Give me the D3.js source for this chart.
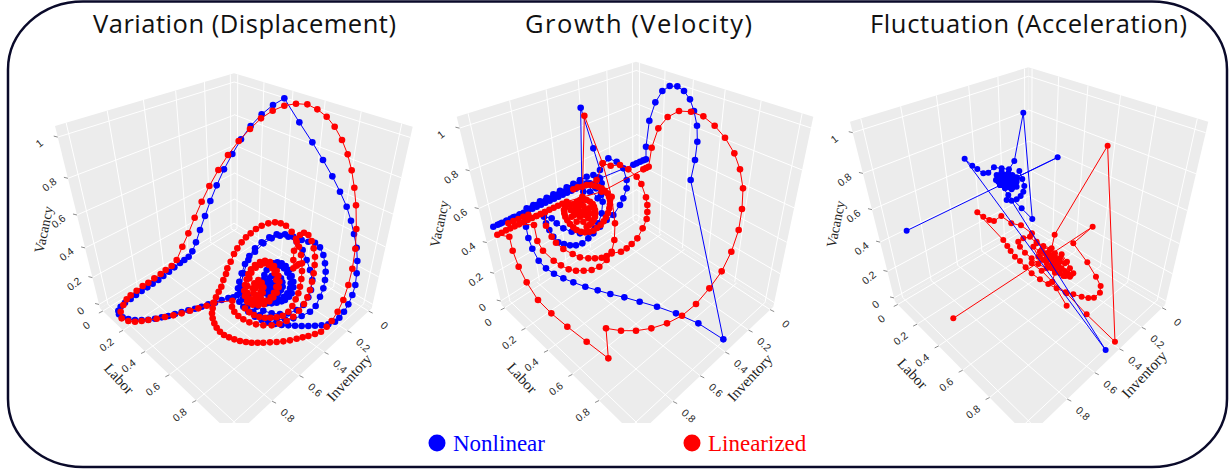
<!DOCTYPE html>
<html>
<head>
<meta charset="utf-8">
<script src="https://cdn.jsdelivr.net/npm/d3@7"></script>
<style>
  html, body { margin: 0; padding: 0; background: #fff; overflow: hidden; }
</style>
</head>
<body>
<svg id="chart" width="1229" height="472"></svg>
<script>
const titles = ["Variation (Displacement)", "Growth (Velocity)", "Fluctuation (Acceleration)"];
const seriesNames = ["Nonlinear", "Linearized"];
const axisNames = ["Inventory", "Labor", "Vacancy"];
const vacancyTicks = [0, 0.2, 0.4, 0.6, 0.8, 1];
const floorTicks = [0, 0.2, 0.4, 0.6, 0.8];
const gridTicks = [0, 0.2, 0.4, 0.6, 0.8, 1];

// the pictures are 3D trajectories seen from one camera, so each point is kept
// as it reads off the view plane: [across, up] in thousandths of the view
const displacementNonlinear = [[-2,418],[-17,416],[-37,410],[-57,402],[-77,397],[-97,390],[-117,384],[-137,379],[-157,374],[-177,368],[-197,362],[-217,358],[-237,354],[-257,351],[-277,350],[-297,350],[-317,353],[-334,358],[-345,367],[-347,378],[-340,390],[-327,402],[-310,413],[-294,425],[-277,437],[-260,448],[-244,459],[-227,470],[-212,482],[-195,495],[-179,508],[-162,521],[-149,530],[-136,540],[-125,556],[-114,583],[-102,620],[-87,662],[-71,707],[-52,754],[-30,802],[-5,848],[21,892],[50,932],[83,967],[117,995],[151,1015],[196,943],[235,883],[267,830],[295,781],[318,735],[338,690],[351,648],[360,608],[368,567],[370,527],[368,490],[364,455],[355,425],[343,397],[330,375],[316,357],[303,345],[283,337],[263,334],[243,333],[223,332],[203,332],[183,333],[163,334],[143,335],[123,338],[103,343],[83,350],[63,360],[43,375],[28,390],[16,405],[10,425],[12,445],[16,465],[23,490],[33,518],[46,542],[63,565],[83,583],[106,598],[128,607],[153,607],[178,600],[203,590],[223,585],[243,582],[258,568],[268,545],[273,520],[275,495],[273,470],[268,445],[258,420],[245,392],[228,375],[203,362],[178,355],[153,352],[128,352],[103,357],[78,365],[58,375],[40,392],[26,412],[20,430],[20,450],[28,490],[43,530],[63,555],[88,580],[113,595],[138,603],[163,600],[188,585],[206,560],[218,530],[228,500],[235,470],[231,440],[223,418],[208,395],[188,380],[163,370],[138,368],[113,370],[88,378],[68,390],[53,405],[43,420],[68,405],[83,402],[98,400],[113,400],[128,402],[143,406],[153,410],[165,420],[173,430],[178,448],[178,465],[173,482],[166,500],[155,512],[143,520],[130,523],[118,520],[106,512],[98,500],[91,485],[88,470],[89,455],[93,440],[103,430],[113,425],[125,426],[133,430],[141,440],[146,450],[145,463],[141,475],[133,482],[123,485],[113,482],[106,475],[101,465],[101,455],[106,447],[113,442],[123,444],[128,452],[123,462],[113,460],[135,512],[150,505],[160,492],[168,478],[170,460],[168,445],[160,430],[150,420],[135,412],[120,412],[105,418],[95,430]];
const displacementLinearized = [[72,420],[66,425],[64,445],[70,458],[78,452],[80,435],[73,408],[63,415],[58,430],[56,445],[61,460],[73,470],[83,462],[88,448],[86,432],[80,418],[68,405],[53,402],[40,408],[33,422],[31,438],[33,455],[38,472],[43,488],[51,502],[63,515],[78,524],[93,528],[108,524],[120,512],[128,498],[133,482],[136,465],[134,448],[128,432],[118,418],[106,406],[90,397],[73,394],[56,396],[40,404],[45,415],[40,432],[40,452],[46,475],[52,492],[65,507],[80,515],[93,520],[105,515],[115,505],[122,490],[127,470],[127,450],[120,432],[110,418],[95,408],[78,404],[60,405],[33,385],[46,373],[60,365],[76,359],[93,357],[110,357],[128,358],[146,363],[163,375],[175,392],[185,412],[193,430],[198,450],[202,473],[204,497],[204,520],[201,545],[195,570],[186,593],[173,615],[156,633],[140,640],[123,643],[103,640],[83,633],[66,623],[50,610],[36,598],[23,583],[10,565],[0,548],[-10,525],[-20,505],[-24,488],[-32,470],[-38,450],[-46,435],[-54,418],[-60,402],[-64,385],[-66,370],[-64,355],[-59,340],[-52,327],[-42,315],[-30,305],[-15,298],[1,292],[18,287],[36,284],[53,282],[71,282],[88,282],[108,283],[128,284],[148,286],[168,289],[188,294],[206,298],[223,302],[243,308],[261,315],[278,330],[293,347],[311,375],[328,410],[343,455],[355,504],[364,564],[367,623],[366,694],[361,747],[353,799],[341,847],[324,890],[302,930],[278,960],[250,982],[220,997],[186,999],[151,993],[116,978],[81,955],[48,923],[14,887],[-18,845],[-47,800],[-74,752],[-97,705],[-118,657],[-137,610],[-155,570],[-172,530],[-187,512],[-205,500],[-220,488],[-239,475],[-257,462],[-274,452],[-292,438],[-310,424],[-322,412],[-332,395],[-340,375],[-337,355],[-317,347],[-297,345],[-277,347],[-257,350],[-232,354],[-207,359],[-182,364],[-157,370],[-132,378],[-107,385],[-82,393],[-62,402],[-5,408],[-6,390],[1,375],[13,362],[28,352],[46,343],[66,337],[88,334],[113,334],[136,339],[158,347],[178,360],[195,378],[210,398],[220,418],[228,440],[234,465],[239,490],[242,515],[243,540],[239,565],[233,587],[223,605],[210,612],[198,605],[188,585],[180,558],[178,530],[178,505],[188,513],[195,518]];

const velocityNonlinear = [[-162,710],[-166,987],[-128,865],[-108,800],[-83,835],[-58,825],[-38,805],[-28,770],[-28,745],[-38,715],[-48,695],[-68,665],[-88,650],[-108,630],[-128,610],[-143,595],[-161,580],[-180,574],[-198,574],[-216,578],[-233,583],[-248,600],[-260,620],[-270,640],[-276,660],[-253,655],[-238,640],[-218,625],[-193,615],[-168,610],[-143,613],[-123,625],[-113,640],[-103,670],[-100,705],[-98,735],[-103,760],[-113,778],[-128,785],[-123,755],[-138,735],[-158,735],[-138,760],[-120,745],[-105,725],[-115,715],[-148,760],[-168,769],[-148,780],[-168,769],[-188,759],[-208,748],[-228,738],[-248,727],[-268,717],[-288,706],[-308,695],[-328,685],[-348,667],[-368,658],[-388,648],[-408,639],[-428,630],[-415,636],[-402,642],[-389,648],[-376,654],[-363,660],[-350,666],[-337,672],[-324,678],[-311,684],[-298,690],[-285,696],[-272,702],[-259,708],[-246,714],[-233,720],[-220,726],[-207,732],[-194,738],[-181,744],[-168,750],[-168,760],[-181,754],[-194,747],[-207,740],[-220,734],[-233,727],[-246,721],[-259,714],[-272,708],[-285,701],[-298,695],[-311,688],[-324,682],[-108,775],[-8,816],[2,820],[12,825],[22,829],[30,832],[30,870],[40,948],[58,1003],[79,1037],[101,1052],[124,1051],[144,1037],[162,1012],[174,977],[183,933],[184,885],[177,830],[164,770],[262,292],[187,340],[120,370],[63,390],[11,405],[-35,418],[-77,428],[-115,439],[-152,450],[-188,463],[-218,475],[-246,489],[-270,505],[-292,528],[-311,564],[-323,596],[-330,630],[-326,655]];
const velocityLinearized = [[-161,720],[-155,963],[-100,820],[-73,720],[-63,640],[-65,590],[-73,555],[-88,542],[-103,537],[-123,535],[-143,535],[-168,538],[-190,548],[-218,563],[-240,582],[-253,600],[-270,633],[-273,674],[-286,668],[-299,662],[-312,656],[-325,650],[-338,643],[-351,637],[-364,631],[-377,625],[-390,619],[-403,612],[-416,606],[-380,600],[-370,558],[-352,510],[-328,463],[-294,410],[-254,370],[-206,330],[-148,285],[-83,235],[-90,325],[-45,318],[0,318],[46,325],[93,340],[138,363],[180,398],[220,445],[257,496],[286,555],[308,620],[318,683],[321,745],[312,802],[295,850],[267,897],[236,933],[202,961],[165,975],[129,977],[95,959],[67,925],[47,867],[38,810],[30,806],[22,802],[-103,735],[-208,705],[-221,699],[-234,693],[-247,687],[-260,681],[-273,674],[-286,668],[-299,662],[-323,666],[-338,660],[-353,653],[-368,647],[-383,640],[-306,635],[-296,587],[-279,558],[-247,528],[-225,514],[-202,502],[-180,498],[-157,498],[-133,500],[-110,510],[-88,530],[-73,550],[-45,555],[-28,565],[-13,578],[4,595],[20,625],[32,653],[34,674],[34,695],[30,718],[16,758],[2,780],[-23,802],[-48,815],[-76,813],[-100,820],[-118,770],[-188,742],[-175,748],[-161,750],[-148,755],[-136,755],[-125,753],[-114,750],[-103,745],[-94,738],[-86,730],[-81,720],[-78,710],[-78,697],[-80,685],[-84,671],[-90,658],[-97,646],[-106,635],[-117,626],[-128,618],[-140,615],[-153,613],[-165,615],[-178,620],[-188,628],[-198,638],[-206,649],[-212,660],[-215,670],[-216,680],[-212,688],[-208,695],[-197,697],[-186,698],[-177,705],[-168,710],[-158,711],[-148,710],[-138,705],[-130,698],[-126,690],[-123,680],[-122,670],[-123,660],[-127,650],[-133,640],[-140,635],[-148,630],[-158,645],[-178,645],[-193,660],[-186,665],[-196,680],[-186,680],[-173,690],[-170,695],[-158,692],[-141,685],[-138,670],[-143,655],[-153,665],[-168,660],[-180,668],[-178,680],[-166,675],[-153,680]];

const accelerationNonlinear = [[-365,618],[88,838],[-35,778],[-35,765],[-35,750],[-50,742],[-70,745],[-85,755],[-97,770],[-95,785],[-80,795],[-60,790],[-45,780],[-55,775],[-70,780],[-85,780],[-75,765],[-60,755],[-45,760],[-65,770],[-85,785],[-72,785],[-60,785],[-48,785],[-92,775],[-80,775],[-68,775],[-56,775],[-44,775],[-34,775],[-90,765],[-78,765],[-66,765],[-54,765],[-42,765],[-85,755],[-72,755],[-60,755],[-48,755],[-38,755],[-70,748],[-58,748],[-46,748],[-80,755],[232,260],[-191,834],[-168,813],[-153,803],[-135,790],[-120,792],[-103,808],[-80,805],[-58,802],[-42,827],[-15,972],[12,653],[-20,685],[-60,725],[-65,710],[-50,708],[-35,712],[-23,722],[-15,735],[-12,752],[-18,773],[-27,797]];
const accelerationLinearized = [[-225,355],[193,630],[135,580],[177,523],[203,480],[217,452],[215,432],[197,417],[180,416],[160,420],[135,427],[112,433],[85,445],[60,458],[35,472],[10,490],[-8,508],[-25,527],[-40,540],[-53,557],[-63,572],[-75,590],[-153,673],[-135,660],[-117,650],[-103,647],[-81,662],[-51,640],[-22,634],[11,610],[25,585],[45,572],[70,565],[79,606],[238,873],[260,285],[175,367],[115,430],[72,465],[80,492],[105,482],[125,480],[135,490],[125,505],[116,525],[100,547],[110,520],[95,535],[80,550],[65,560],[45,570],[25,580],[5,600],[-15,595],[-30,585],[-25,570],[-10,552],[10,535],[30,518],[55,505],[80,498],[95,505],[90,518],[75,530],[55,540],[35,555],[15,570],[30,540],[50,530],[70,515],[75,510],[55,520],[65,535],[40,560],[60,552],[80,538],[95,525],[60,535],[70,530],[80,520],[90,510],[100,505],[110,497],[118,490],[128,485],[112,482],[95,490],[70,505],[45,530],[35,540],[50,550],[65,545],[85,530],[75,545],[10,520],[40,498],[72,465],[115,393]];

const blue = "#0000ff";
const red = "#ff0000";

const panels = [
  {
    title: titles[0], titleX: 244.5, titleWidth: 303, radius: 3.3, vacancyDx: -36,
    series: [[displacementNonlinear, blue], [displacementLinearized, red]],
    backTop: [234, 73.3], leftTop: [55, 126], rightTop: [412.7, 126.7],
    backFloor: [234, 226.7], leftFloor: [100, 308.3], rightFloor: [371.7, 308.3], front: [234, 436.7],
  },
  {
    title: titles[1], titleX: 638.5, titleWidth: 227, radius: 3.3, vacancyDx: -42,
    series: [[velocityNonlinear, blue], [velocityLinearized, red]],
    backTop: [636, 61.7], leftTop: [456.7, 116.7], rightTop: [813.3, 116.7],
    backFloor: [636, 218], leftFloor: [501.7, 305], rightFloor: [773.3, 306.7], front: [636, 436.7],
  },
  {
    title: titles[2], titleX: 1028.5, titleWidth: 317, radius: 3, vacancyDx: -39,
    series: [[accelerationLinearized, red], [accelerationNonlinear, blue]],
    backTop: [1028.3, 67.3], leftTop: [850, 121.7], rightTop: [1208.3, 121.7],
    backFloor: [1028.3, 224], leftFloor: [895, 301.7], rightFloor: [1165, 305], front: [1028.3, 436.7],
  },
];

const svg = d3.select("#chart");

// perspective map of the unit square onto a quad of the box
function quadMap(p0, p1, p2, p3) {
  const dx1 = p1[0] - p2[0], dx2 = p3[0] - p2[0], sx = p0[0] - p1[0] + p2[0] - p3[0];
  const dy1 = p1[1] - p2[1], dy2 = p3[1] - p2[1], sy = p0[1] - p1[1] + p2[1] - p3[1];
  const den = dx1 * dy2 - dx2 * dy1;
  const g = (sx * dy2 - dx2 * sy) / den;
  const h = (dx1 * sy - sx * dy1) / den;
  const a = p1[0] - p0[0] + g * p1[0], b = p3[0] - p0[0] + h * p3[0];
  const d = p1[1] - p0[1] + g * p1[1], e = p3[1] - p0[1] + h * p3[1];
  return (u, v) => {
    const w = g * u + h * v + 1;
    return [(a * u + b * v + p0[0]) / w, (d * u + e * v + p0[1]) / w];
  };
}

// axis values reach a little past both ends of the box
const axisFrac = d3.scaleLinear().domain([-0.03, 1.05]).range([0, 1]);

svg.append("defs").append("clipPath").attr("id", "floor-clip")
  .append("rect").attr("x", 0).attr("y", 0).attr("width", 1229).attr("height", 423);

function drawPanel(p) {
  const g = svg.append("g");
  const leftWall = quadMap(p.backFloor, p.leftFloor, p.leftTop, p.backTop);
  const rightWall = quadMap(p.backFloor, p.rightFloor, p.rightTop, p.backTop);
  const floor = quadMap(p.backFloor, p.rightFloor, p.front, p.leftFloor);

  const box = g.append("g").attr("clip-path", "url(#floor-clip)");
  [
    [p.backFloor, p.leftFloor, p.leftTop, p.backTop],
    [p.backFloor, p.rightFloor, p.rightTop, p.backTop],
    [p.backFloor, p.rightFloor, p.front, p.leftFloor],
  ].forEach((quad) => {
    box.append("polygon").attr("points", quad.join(" ")).attr("fill", "#ececec");
  });

  const gridLine = (a, b) => {
    box.append("line")
      .attr("x1", a[0]).attr("y1", a[1]).attr("x2", b[0]).attr("y2", b[1])
      .attr("stroke", "#fff").attr("stroke-width", 1);
  };
  gridTicks.forEach((t) => {
    const f = axisFrac(t);
    gridLine(leftWall(f, 0), leftWall(f, 1));
    gridLine(leftWall(0, f), leftWall(1, f));
    gridLine(rightWall(f, 0), rightWall(f, 1));
    gridLine(rightWall(0, f), rightWall(1, f));
    gridLine(floor(f, 0), floor(f, 1));
    gridLine(floor(0, f), floor(1, f));
  });

  const tick = (pos, dx, dy, lx, ly, angle, label) => {
    g.append("line")
      .attr("x1", pos[0]).attr("y1", pos[1])
      .attr("x2", pos[0] + dx).attr("y2", pos[1] + dy)
      .attr("stroke", "#8c8c8c").attr("stroke-width", 1);
    g.append("text")
      .attr("transform", `translate(${pos[0] + lx},${pos[1] + ly}) rotate(${angle})`)
      .attr("text-anchor", "middle").attr("dominant-baseline", "middle")
      .attr("font-family", "Liberation Sans").attr("font-size", 10.5)
      .attr("fill", "#2a2a2a").text(label);
  };
  vacancyTicks.forEach((t) => {
    tick(leftWall(1, axisFrac(t)), -4, -1, -18, 7, -38, t);
  });
  floorTicks.forEach((t) => {
    tick(floor(axisFrac(t), 1), -4, 2, -16, 15, -38, t);
    tick(floor(1, axisFrac(t)), 4, 2, 15, 15, 42, t);
  });

  const axisTitle = (pos, dx, dy, angle, label, size) => {
    g.append("text")
      .attr("transform", `translate(${pos[0] + dx},${pos[1] + dy}) rotate(${angle})`)
      .attr("text-anchor", "middle").attr("dominant-baseline", "middle")
      .attr("font-family", "Liberation Serif").attr("font-size", size)
      .attr("fill", "#222").text(label);
  };
  axisTitle(floor(1, axisFrac(0.5)), 38, 15, -47, axisNames[0], 15);
  axisTitle(floor(axisFrac(0.5), 1), -39, 17, 47, axisNames[1], 15);
  axisTitle(leftWall(1, axisFrac(0.5)), p.vacancyDx, -2, -78, axisNames[2], 14);

  const cx = p.front[0];
  const x = d3.scaleLinear().domain([-1000, 1000]).range([cx - 1000 / 3, cx + 1000 / 3]);
  const y = d3.scaleLinear().domain([0, 1000]).range([p.front[1], p.front[1] - 1000 / 3]);
  const line = d3.line().x((d) => x(d[0])).y((d) => y(d[1]));

  p.series.forEach(([values, color]) => {
    g.append("path").attr("d", line(values))
      .attr("fill", "none").attr("stroke", color).attr("stroke-width", 1);
    g.append("g").selectAll("circle")
      .data(values)
      .join("circle")
      .attr("cx", (d) => x(d[0]))
      .attr("cy", (d) => y(d[1]))
      .attr("r", p.radius)
      .attr("fill", color);
  });

  svg.append("text")
    .attr("x", p.titleX).attr("y", 33)
    .attr("text-anchor", "middle")
    .attr("font-family", "Open Sans").attr("font-size", 25.5)
    .attr("textLength", p.titleWidth).attr("lengthAdjust", "spacing")
    .attr("fill", "#111").text(p.title);
}

panels.forEach(drawPanel);

// legend
const legend = [
  { name: seriesNames[0], color: blue, dot: 437, text: 453 },
  { name: seriesNames[1], color: red, dot: 692, text: 708 },
];
legend.forEach((l) => {
  svg.append("circle").attr("cx", l.dot).attr("cy", 443).attr("r", 8.5).attr("fill", l.color);
  svg.append("text").attr("x", l.text).attr("y", 450.5)
    .attr("font-family", "Liberation Serif").attr("font-size", 23)
    .attr("fill", l.color).text(l.name);
});

// rounded frame around the whole figure
svg.append("rect")
  .attr("x", 8).attr("y", 1.5).attr("width", 1219).attr("height", 465.5)
  .attr("rx", 75).attr("ry", 68)
  .attr("fill", "none").attr("stroke", "#0a0a2a").attr("stroke-width", 2.5);
</script>
</body>
</html>
